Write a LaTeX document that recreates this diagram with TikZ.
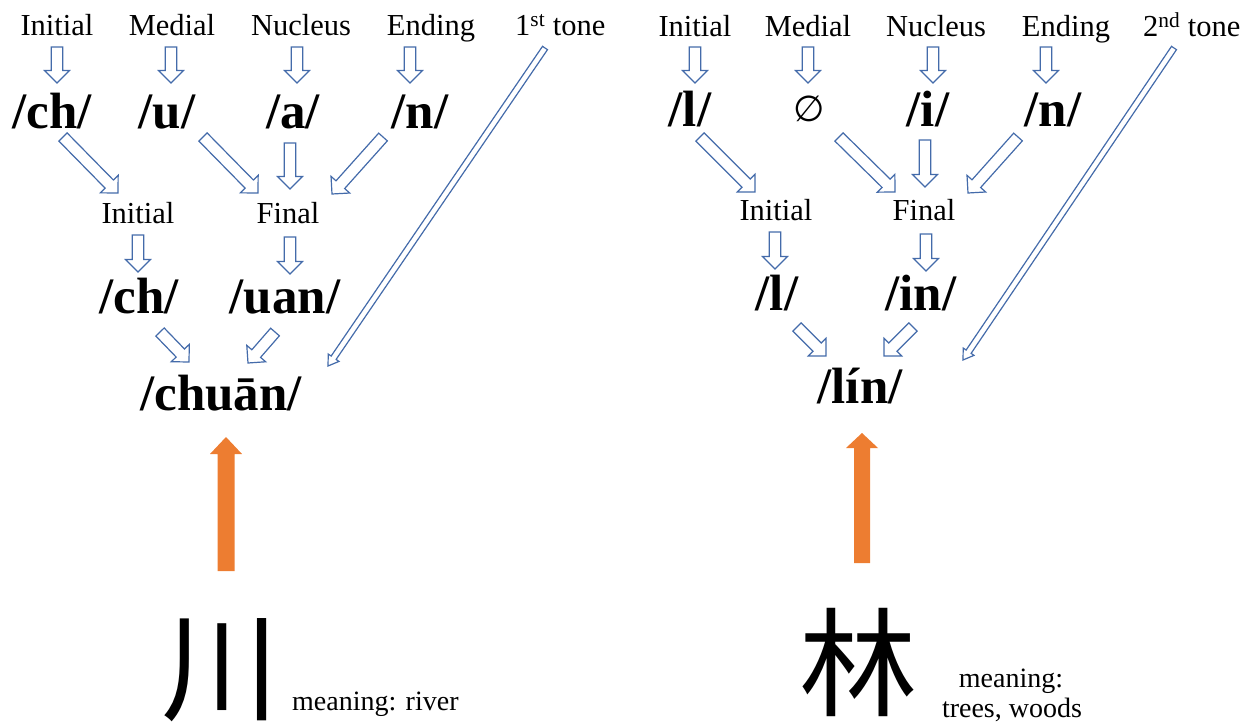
\documentclass[tikz,border=0pt]{standalone}
\usepackage{fontspec}
\setmainfont{Liberation Serif}
\newfontfamily\cjk{Noto Sans CJK SC}
\newfontfamily\djv{DejaVu Sans}
\usetikzlibrary{calc}
\definecolor{arrowblue}{RGB}{68,107,170}
\definecolor{arroworange}{RGB}{237,125,49}
\tikzset{
 lbl/.style={font=\fontsize{30.5}{36}\selectfont, inner sep=0pt, anchor=base},
 phon/.style={font=\fontsize{51}{60}\selectfont\bfseries, inner sep=0pt, anchor=base},
 hollow/.style={draw=arrowblue, line width=1.2pt, fill=white, line join=miter},
 solidarr/.style={fill=arroworange, draw=none},
 hanzi/.style={font=\fontsize{118}{130}\selectfont\cjk, inner sep=0pt},
 mean/.style={font=\fontsize{28}{32}\selectfont, inner sep=0pt, anchor=base},
}
% #1 style, #2 tail, #3 tip, #4 half shaft, #5 half head, #6 head length
\newcommand\blockarrow[6][hollow]{%
  \coordinate (hb) at ($(#3)!#6!(#2)$);
  \path[#1] ($(#2)!#4!90:(#3)$) -- ($(hb)!#4!90:(#3)$) -- ($(hb)!#5!90:(#3)$) -- (#3)
    -- ($(hb)!#5!-90:(#3)$) -- ($(hb)!#4!-90:(#3)$) -- ($(#2)!#4!-90:(#3)$) -- cycle;}
\newcommand\harr[2]{\blockarrow{#1}{#2}{5.8pt}{12.5pt}{12.5pt}}
\newcommand\longarr[2]{\blockarrow{#1}{#2}{3pt}{6.5pt}{10pt}}
\begin{document}
\begin{tikzpicture}[x=1pt,y=-1pt]
\useasboundingbox (0,0) rectangle (1253,725);

% ================= LEFT TREE =================
\node[lbl] (iniL) at (57,36) {Initial};
\node[lbl] (medL) at (172,36) {Medial};
\node[lbl] (nucL) at (301,36) {Nucleus};
\node[lbl] (endL) at (431,36) {Ending};
\node[lbl, anchor=base west] (toneL) at (515,36) {1\textsuperscript{st} tone};

\node[phon] (chL) at (52,128) {/ch/};
\node[phon] (uL) at (167,128) {/u/};
\node[phon] (aL) at (293,128) {/a/};
\node[phon] (nL) at (420,128) {/n/};

\node[lbl] (ini2L) at (138,223) {Initial};
\node[lbl] (finL) at (288,223) {Final};

\node[phon] (ch2L) at (139,313) {/ch/};
\node[phon] (uanL) at (285,313) {/uan/};

\node[phon] (chuanL) at (221,410) {/chuān/};

% arrow ends
\coordinate (l1t) at (57,47);   \coordinate (l1h) at (57,83);
\coordinate (l2t) at (171,47);  \coordinate (l2h) at (171,83);
\coordinate (l3t) at (297,47);  \coordinate (l3h) at (297,83);
\coordinate (l4t) at (410,47);  \coordinate (l4h) at (410,83);
\coordinate (l5t) at (63,137);  \coordinate (l5h) at (118,193);
\coordinate (l6t) at (203,137); \coordinate (l6h) at (258,193);
\coordinate (l7t) at (290,143); \coordinate (l7h) at (290,189);
\coordinate (l8t) at (383,137); \coordinate (l8h) at (332,194);
\coordinate (l9t) at (138,235); \coordinate (l9h) at (138,272);
\coordinate (l10t) at (290,237); \coordinate (l10h) at (290,274);
\coordinate (l11t) at (160,332); \coordinate (l11h) at (189,362);
\coordinate (l12t) at (275,332); \coordinate (l12h) at (248,363);
\coordinate (ltt) at (545,48);  \coordinate (lth) at (328,366);
\coordinate (oLt) at (226,571); \coordinate (oLh) at (226,437);

\harr{l1t}{l1h} \harr{l2t}{l2h} \harr{l3t}{l3h} \harr{l4t}{l4h}
\harr{l5t}{l5h} \harr{l6t}{l6h} \harr{l7t}{l7h} \harr{l8t}{l8h}
\harr{l9t}{l9h} \harr{l10t}{l10h} \harr{l11t}{l11h} \harr{l12t}{l12h}
\longarr{ltt}{lth}
\blockarrow[solidarr]{oLt}{oLh}{8.5pt}{16pt}{17pt}

\node[hanzi] (chuan) at (220,670) {川};
\node[mean, anchor=base west] (meanL) at (292,710) {meaning: river};

% ================= RIGHT TREE =================
\node[lbl] (iniR) at (695,37) {Initial};
\node[lbl] (medR) at (808,37) {Medial};
\node[lbl] (nucR) at (936,37) {Nucleus};
\node[lbl] (endR) at (1066,37) {Ending};
\node[lbl, anchor=base west] (toneR) at (1143,37) {2\textsuperscript{nd} tone};

\node[phon] (lR) at (690,126) {/l/};
\node[inner sep=0pt, font=\fontsize{36}{40}\selectfont\djv] (zeroR) at (809,109) {∅};
\node[phon] (iR) at (928,126) {/i/};
\node[phon] (nR) at (1053,126) {/n/};

\node[lbl] (ini2R) at (776,220) {Initial};
\node[lbl] (finR) at (924,220) {Final};

\node[phon] (l2R) at (777,310) {/l/};
\node[phon] (inR) at (921,310) {/in/};

\node[phon] (linR) at (860,403) {/lín/};

\coordinate (r1t) at (695,47);   \coordinate (r1h) at (695,83);
\coordinate (r2t) at (808,47);   \coordinate (r2h) at (808,83);
\coordinate (r3t) at (933,47);   \coordinate (r3h) at (933,83);
\coordinate (r4t) at (1046,47);  \coordinate (r4h) at (1046,83);
\coordinate (r5t) at (700,137);  \coordinate (r5h) at (755,192);
\coordinate (r6t) at (839,137);  \coordinate (r6h) at (895,192);
\coordinate (r7t) at (925,140);  \coordinate (r7h) at (925,187);
\coordinate (r8t) at (1018,137); \coordinate (r8h) at (968,193);
\coordinate (r9t) at (775,232);  \coordinate (r9h) at (775,269);
\coordinate (r10t) at (926,234); \coordinate (r10h) at (926,271);
\coordinate (r11t) at (797,327); \coordinate (r11h) at (826,356);
\coordinate (r12t) at (913,327); \coordinate (r12h) at (884,356);
\coordinate (rtt) at (1174,48);  \coordinate (rth) at (963,360);
\coordinate (oRt) at (862,563);  \coordinate (oRh) at (862,433);

\harr{r1t}{r1h} \harr{r2t}{r2h} \harr{r3t}{r3h} \harr{r4t}{r4h}
\harr{r5t}{r5h} \harr{r6t}{r6h} \harr{r7t}{r7h} \harr{r8t}{r8h}
\harr{r9t}{r9h} \harr{r10t}{r10h} \harr{r11t}{r11h} \harr{r12t}{r12h}
\longarr{rtt}{rth}
\blockarrow[solidarr]{oRt}{oRh}{8pt}{16pt}{15pt}

\node[hanzi] (lin) at (858,662) {林};
\node[mean] (meanR1) at (1011,687) {meaning:};
\node[mean] (meanR2) at (1012,717) {trees, woods};
\end{tikzpicture}
\end{document}
